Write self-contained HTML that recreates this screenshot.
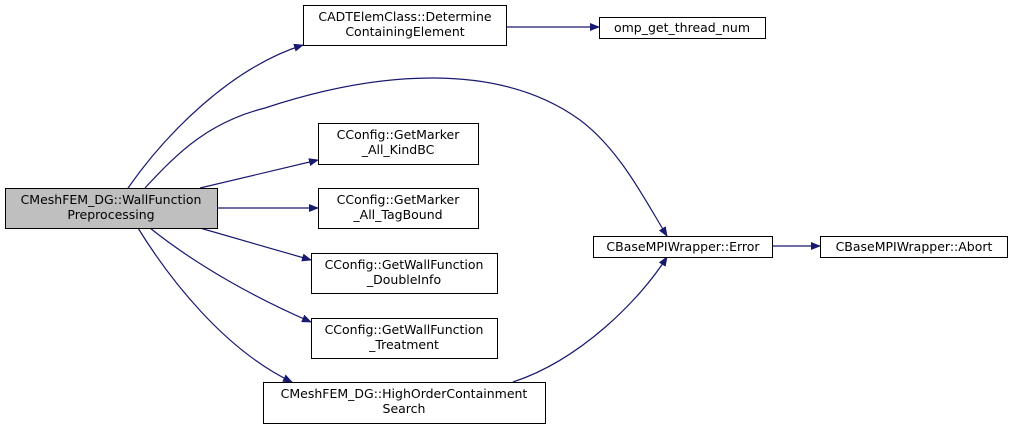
<!DOCTYPE html>
<html><head><meta charset="utf-8"><style>
html,body{margin:0;padding:0;background:#fff;}
text{font-family:"DejaVu Sans","Liberation Sans",sans-serif;font-size:12.5px;fill:#000;}
</style></head><body>
<svg width="1012" height="431" viewBox="0 0 1012 431" xmlns="http://www.w3.org/2000/svg">
<defs><marker id="a" markerWidth="10" markerHeight="8" refX="9" refY="4" orient="auto" markerUnits="userSpaceOnUse"><path d="M0,0 L10,4 L0,8 Z" fill="#191970"/></marker></defs>
<g fill="none" stroke="#191970" stroke-width="1.2" marker-end="url(#a)">
<path d="M128,188 C165,135 230,68 303,45"/>
<path d="M145,188 C180,150 210,122 265,108 C380,70 500,62 580,120 C620,150 645,200 667,236"/>
<path d="M200,188 L318,160"/>
<path d="M217,208 L318,208"/>
<path d="M200,228 L311,260"/>
<path d="M150,228 C200,268 260,300 311,322"/>
<path d="M138,228 C170,280 225,350 292,382"/>
<path d="M513,382 C580,360 640,300 667,257"/>
<path d="M506,27 L599,27"/>
<path d="M772,246 L820,246"/>
</g>
<g stroke="#000" stroke-width="1" fill="#fff">
<rect x="5.5" y="188.5" width="212" height="40" fill="#bfbfbf"/>
<rect x="303.5" y="5.5" width="203" height="40"/>
<rect x="599.5" y="17.5" width="166" height="21"/>
<rect x="318.5" y="123.5" width="160" height="41"/>
<rect x="318.5" y="188.5" width="160" height="40"/>
<rect x="311.5" y="253.5" width="186" height="40"/>
<rect x="311.5" y="318.5" width="186" height="40"/>
<rect x="263.5" y="382.5" width="282" height="41"/>
<rect x="593.5" y="236.5" width="179" height="21"/>
<rect x="820.5" y="236.5" width="187" height="21"/>
</g>
<g text-anchor="middle">
<text x="111" y="204">CMeshFEM_DG::WallFunction</text><text x="111" y="219">Preprocessing</text>
<text x="405" y="21">CADTElemClass::Determine</text><text x="405" y="36">ContainingElement</text>
<text x="682" y="32">omp_get_thread_num</text>
<text x="398" y="139">CConfig::GetMarker</text><text x="398" y="154">_All_KindBC</text>
<text x="398" y="204">CConfig::GetMarker</text><text x="398" y="219">_All_TagBound</text>
<text x="404" y="269">CConfig::GetWallFunction</text><text x="404" y="284">_DoubleInfo</text>
<text x="404" y="334">CConfig::GetWallFunction</text><text x="404" y="349">_Treatment</text>
<text x="404" y="398">CMeshFEM_DG::HighOrderContainment</text><text x="404" y="413">Search</text>
<text x="683" y="251">CBaseMPIWrapper::Error</text>
<text x="914" y="251">CBaseMPIWrapper::Abort</text>
</g>
</svg>
</body></html>
